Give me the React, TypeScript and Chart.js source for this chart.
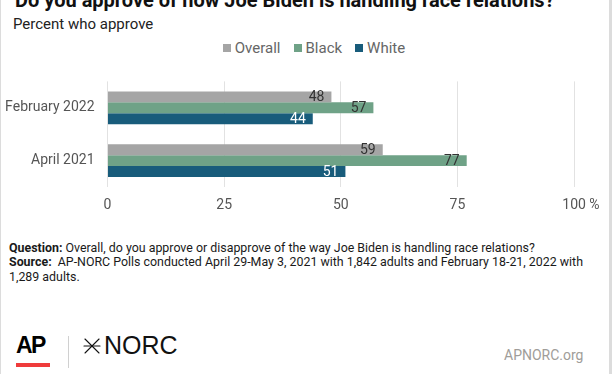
import React, { useEffect, useRef } from "react";
import { Chart, registerables } from "chart.js";

Chart.register(...registerables);

const categories = ["February 2022", "April 2021"];
const seriesNames = ["Overall", "Black", "White"];
const overallValues = [48, 59];
const blackValues = [57, 77];
const whiteValues = [44, 51];
const seriesColors = ["#a5a5a5", "#6fa287", "#185c7b"];
const labelColors = ["#333333", "#333333", "#ffffff"];
const xTicks = [0, 25, 50, 75, 100];

const FONT = "Roboto, 'Noto Sans', sans-serif";

const valueLabelPlugin = {
  id: "valueLabels",
  afterDatasetsDraw(chart: any) {
    const ctx = chart.ctx;
    ctx.save();
    ctx.font = `14px ${FONT}`;
    ctx.textAlign = "right";
    ctx.textBaseline = "middle";
    chart.data.datasets.forEach((ds: any, di: number) => {
      const meta = chart.getDatasetMeta(di);
      meta.data.forEach((bar: any, i: number) => {
        ctx.fillStyle = labelColors[di];
        ctx.fillText(String(ds.data[i]), bar.x - 7, bar.y + 0.5);
      });
    });
    ctx.restore();
  },
};

function BarChart() {
  const ref = useRef<HTMLCanvasElement | null>(null);
  useEffect(() => {
    if (!ref.current) return;
    const values = [overallValues, blackValues, whiteValues];
    const chart = new Chart(ref.current, {
      type: "bar",
      data: {
        labels: categories,
        datasets: seriesNames.map((name, i) => ({
          label: name,
          data: values[i],
          backgroundColor: seriesColors[i],
          borderWidth: 0,
          barPercentage: 1,
          categoryPercentage: 0.62,
        })),
      },
      options: {
        indexAxis: "y",
        responsive: false,
        animation: false,
        devicePixelRatio: 1,
        layout: { padding: { top: 8, right: 38, bottom: 0, left: 0 } },
        plugins: {
          legend: { display: false },
          tooltip: { enabled: false },
        },
        scales: {
          x: {
            min: 0,
            max: 100,
            afterBuildTicks(scale: any) {
              scale.ticks = xTicks.map((v) => ({ value: v }));
            },
            afterFit(scale: any) {
              scale.height = 33;
            },
            grid: { color: "#e2e2e2", drawTicks: false, lineWidth: 1 },
            border: { display: false },
            ticks: {
              padding: 10,
              color: "#555555",
              font: { family: FONT, size: 14 },
              callback: (v: any) => (v === 100 ? "    100 %" : String(v)),
            },
          },
          y: {
            afterFit(scale: any) {
              scale.width = 107.5;
            },
            grid: { display: false, drawTicks: false },
            border: { display: false },
            ticks: {
              padding: 13,
              color: "#555555",
              font: { family: FONT, size: 14 },
            },
          },
        },
      },
      plugins: [valueLabelPlugin],
    } as any);
    return () => chart.destroy();
  }, []);
  return (
    <canvas
      ref={ref}
      width={612}
      height={160}
      style={{ position: "absolute", left: 0, top: 60, width: 612, height: 160 }}
    />
  );
}

export default function App() {
  return (
    <div
      style={{
        position: "fixed",
        left: 0,
        top: 0,
        width: 612,
        height: 374,
        background: "#ffffff",
        overflow: "hidden",
        fontFamily: FONT,
      }}
    >
      <div style={{ position: "absolute", left: 0, top: 0, width: 1, height: 374, background: "#dcdcdc" }} />
      <div style={{ position: "absolute", left: 609, top: 0, width: 3, height: 374, background: "#dcdcdc" }} />
      <div
        style={{
          position: "absolute",
          left: 15,
          top: -10,
          fontSize: 20,
          lineHeight: "20px",
          fontWeight: 700,
          color: "#111",
          whiteSpace: "nowrap",
        }}
      >
        Do you approve of how Joe Biden is handling race relations?
      </div>
      <div
        style={{
          position: "absolute",
          left: 13,
          top: 15,
          fontSize: 15,
          lineHeight: "18px",
          color: "#222",
          whiteSpace: "nowrap",
        }}
      >
        Percent who approve
      </div>
      <div
        style={{
          position: "absolute",
          left: 0,
          top: 39,
          width: 612,
          display: "flex",
          justifyContent: "center",
          fontSize: 15,
          lineHeight: "18px",
          color: "#666",
          paddingLeft: 16,
          boxSizing: "border-box",
        }}
      >
        {seriesNames.map((name, i) => (
          <div key={name} style={{ display: "flex", alignItems: "center", marginRight: i < 2 ? 13 : 0 }}>
            <span style={{ display: "inline-block", width: 8, height: 8, background: seriesColors[i], marginRight: 4 }} />
            <span>{name}</span>
          </div>
        ))}
      </div>
      <BarChart />
      <div
        style={{
          position: "absolute",
          left: 9,
          top: 241,
          fontSize: 12.4,
          lineHeight: "14.4px",
          color: "#1a1a1a",
          whiteSpace: "nowrap",
        }}
      >
        <div>
          <b>Question:</b> Overall, do you approve or disapprove of the way Joe Biden is handling race relations?
        </div>
        <div>
          <b>Source:</b>&nbsp; AP-NORC Polls conducted April 29-May 3, 2021 with 1,842 adults and February 18-21, 2022 with
        </div>
        <div>1,289 adults.</div>
      </div>
      <div
        style={{
          position: "absolute",
          left: 16,
          top: 332,
          fontSize: 23,
          lineHeight: "26px",
          fontWeight: 900,
          color: "#000",
          letterSpacing: -1.5,
          fontFamily: "'Liberation Sans Narrow', 'Liberation Sans', Arial, sans-serif",
        }}
      >
        AP
      </div>
      <div style={{ position: "absolute", left: 16, top: 363, width: 34, height: 4, background: "#ef3b3b" }} />
      <div style={{ position: "absolute", left: 68, top: 336, width: 1, height: 32, background: "#d0d0d0" }} />
      <svg
        width={18}
        height={18}
        viewBox="0 0 18 18"
        style={{ position: "absolute", left: 83, top: 337 }}
      >
        <g stroke="#111" strokeWidth={1.1} strokeLinecap="round">
          <line x1={2} y1={2} x2={16} y2={16} />
          <line x1={16} y1={2} x2={2} y2={16} />
          <line x1={1} y1={9} x2={17} y2={9} />
        </g>
      </svg>
      <div
        style={{
          position: "absolute",
          left: 104,
          top: 331,
          fontSize: 25,
          lineHeight: "28px",
          color: "#111",
          whiteSpace: "nowrap",
          fontFamily: "'Liberation Sans', Arial, sans-serif",
        }}
      >
        NORC
      </div>
      <div
        style={{
          position: "absolute",
          left: 504,
          top: 346,
          fontSize: 14,
          lineHeight: "18px",
          color: "#a09d99",
          whiteSpace: "nowrap",
        }}
      >
        APNORC.org
      </div>
    </div>
  );
}
